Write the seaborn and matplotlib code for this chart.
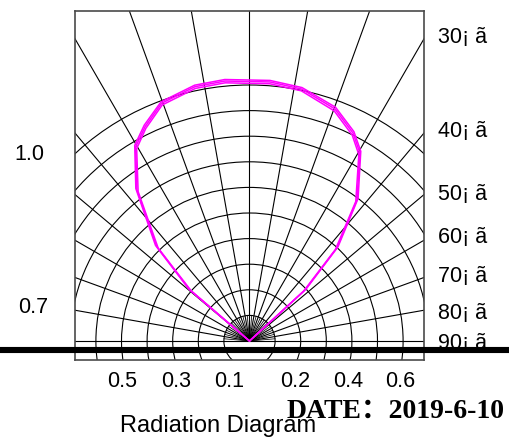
import numpy as np
import pandas as pd
import matplotlib
matplotlib.use("Agg")
import matplotlib.pyplot as plt
from matplotlib.patches import Circle
from matplotlib.lines import Line2D
import seaborn as sns

sns.set_style("white")
plt.rcParams["font.family"] = ["Liberation Sans", "DejaVu Sans"]
plt.rcParams["text.color"] = "black"

# Relative luminous intensity against angle from the optical axis (degrees),
# three overlaid measurement passes
angles = [-50.0, -49.4, -44.5, -36.7, -30.4, -26.0, -20.3, -12.1, -5.4,
          4.5, 11.7, 20.2, 26.5, 30.4, 37.3, 43.2, 47.4, 48.0]
intensity_a = [0.0, 0.306, 0.517, 0.736, 0.879, 0.931, 0.990, 1.016, 1.020,
               1.015, 1.005, 0.966, 0.907, 0.852, 0.693, 0.498, 0.294, 0.0]
intensity_b = [0.0, 0.298, 0.509, 0.728, 0.871, 0.924, 0.983, 1.009, 1.013,
               1.008, 0.998, 0.958, 0.899, 0.844, 0.685, 0.490, 0.286, 0.0]
intensity_c = [0.0, 0.313, 0.524, 0.743, 0.886, 0.938, 0.996, 1.022, 1.026,
               1.021, 1.011, 0.973, 0.914, 0.859, 0.700, 0.505, 0.301, 0.0]

angle_labels = ["30¡ ã", "40¡ ã", "50¡ ã", "60¡ ã", "70¡ ã", "80¡ ã", "90¡ ã"]
bottom_labels = ["0.5", "0.3", "0.1", "0.2", "0.4", "0.6"]
left_labels = ["1.0", "0.7"]

W, H = 509, 437
fig = plt.figure(figsize=(W / 100, H / 100), dpi=100)

# plot box in pixels: x 75..424, y 11..360, origin at (249.5, 341), 1.0 = 256 px
px_left, px_right, px_top, px_bottom = 75, 424, 11, 360
cx, cy, unit = 249.5, 341.0, 256.0
ax = fig.add_axes([px_left / W, 1 - px_bottom / H,
                   (px_right - px_left) / W, (px_bottom - px_top) / H])
ax.set_xlim((px_left - cx) / unit, (px_right - cx) / unit)
ax.set_ylim((cy - px_bottom) / unit, (cy - px_top) / unit)
ax.set_xticks([])
ax.set_yticks([])
for s in ax.spines.values():
    s.set_color("#4a4a4a")
    s.set_linewidth(1.2)

grid_kw = dict(color="black", lw=0.8, zorder=1)

# concentric intensity circles
for k in range(1, 11):
    ax.add_patch(Circle((0, 0), k / 10, fill=False, ec="black", lw=0.8, zorder=1))

# angle rays every 10 degrees
for a in range(-80, 81, 10):
    t = np.radians(a)
    ax.plot([0, 3 * np.sin(t)], [0, 3 * np.cos(t)], **grid_kw)
# short intermediate rays near the origin
for a in range(-85, 86, 10):
    t = np.radians(a)
    ax.plot([0, 0.1 * np.sin(t)], [0, 0.1 * np.cos(t)], color="black", lw=0.55, zorder=1)
# 90 degree baseline
ax.plot([-3, 3], [0, 0], **grid_kw)

# radiation pattern
rows = []
for name, vals in (("a", intensity_a), ("b", intensity_b), ("c", intensity_c)):
    for i, (ang, r) in enumerate(zip(angles, vals)):
        t = np.radians(ang)
        rows.append({"pass": name, "order": i,
                     "x": r * np.sin(t), "y": r * np.cos(t)})
df = pd.DataFrame(rows)
sns.lineplot(data=df, x="x", y="y", units="pass", estimator=None, sort=False,
             color="#ff00ff", lw=1.1, ax=ax, zorder=3, legend=False)
ax.set_xlabel("")
ax.set_ylabel("")


def ftext(x, y, s, **kw):
    fig.text(x / W, 1 - y / H, s, **kw)


fs = 15.5
for lab, y in zip(angle_labels, [43, 137, 200, 243, 282, 319, 349]):
    ftext(438, y, lab, fontsize=fs, ha="left", va="baseline", zorder=3)
for lab, x in zip(bottom_labels, [122.5, 176, 229, 295, 348, 400]):
    ftext(x, 387, lab, fontsize=fs, ha="center", va="baseline")
for lab, (x, y) in zip(left_labels, [(29, 160), (33, 313)]):
    ftext(x, y, lab, fontsize=fs, ha="center", va="baseline")

# thick separator bar across the figure
fig.add_artist(Line2D([0, 1], [1 - 349.8 / H, 1 - 349.8 / H],
                      transform=fig.transFigure, color="black", lw=4.4, zorder=10))

ftext(218.5, 432, "Radiation Diagram", fontsize=17, ha="center", va="baseline")
ftext(287, 418, "DATE：2019-6-10", fontsize=20, fontweight="bold",
      family=["Liberation Serif", "Noto Sans CJK SC"], ha="left", va="baseline")

fig.savefig("out.png", dpi=100)
